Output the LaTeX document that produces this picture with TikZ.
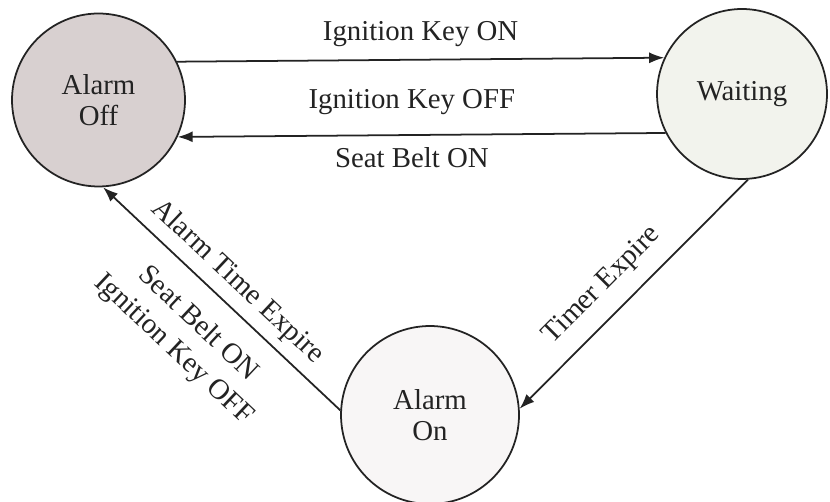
\documentclass[tikz,border=0pt]{standalone}
\usepackage{fontspec}
\setmainfont{Liberation Serif}
\usetikzlibrary{arrows.meta}
\definecolor{inkgray}{RGB}{35,35,35}
\definecolor{offfill}{RGB}{216,208,208}
\definecolor{waitfill}{RGB}{242,243,237}
\definecolor{onfill}{RGB}{248,246,246}
\tikzstyle{state}=[circle,draw=inkgray,line width=1pt,text=inkgray,align=center,font=\fontsize{16.4}{18}\selectfont]
\tikzstyle{event}=[text=inkgray,align=center,font=\fontsize{16.4}{20}\selectfont]
\tikzstyle{trans}=[draw=inkgray,line width=1pt,-{Latex[length=0.3cm,width=0.22cm]}]

\begin{document}
\begin{tikzpicture}[x=0.02cm,y=-0.02cm]
        \path[use as bounding box,fill=white] (0,0) rectangle (830,502);
        \node[state,fill=offfill,minimum size=3.46cm] (alarmoff) at (98.5,100) {Alarm\\Off};
        \node[state,fill=waitfill,minimum size=3.4cm] (waiting) at (742,94) {Waiting};
        \node[state,fill=onfill,minimum size=3.56cm] (alarmon) at (430,415) {Alarm\\On};
        \draw[trans] (alarmoff.26) -- node[event,above,inner sep=0.24cm] {Ignition Key ON} (waiting.155);
        \draw[trans] (waiting.207) -- node[event,pos=0.52,above,inner sep=0.38cm] {Ignition Key OFF} node[event,pos=0.52,below,inner sep=0.24cm] {Seat Belt ON} (alarmoff.-25);
        \draw[trans] (waiting.-86) -- node[event,pos=0.55,sloped,above,inner sep=0.3cm] {Timer Expire} (alarmon.4);
        \draw[trans] (alarmon.177) -- node[event,sloped,above,inner sep=0.18cm] {Alarm Time Expire} node[event,sloped,below,inner sep=0.42cm] {Seat Belt ON\\Ignition Key OFF} (alarmoff.-87);
\end{tikzpicture}
\end{document}
